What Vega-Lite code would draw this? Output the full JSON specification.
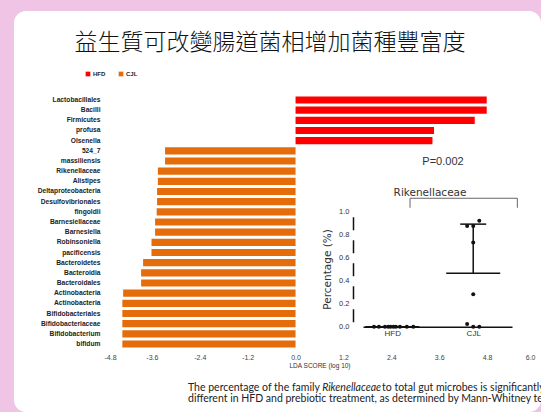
{
  "$schema": "https://vega.github.io/schema/vega-lite/v6.json",
  "width": 527,
  "height": 401,
  "autosize": {"type": "none"},
  "padding": {"left": 14, "top": 11, "right": 0, "bottom": 0},
  "background": "#efc4e4",
  "view": {"fill": "#ffffff", "stroke": null, "cornerRadius": 12},
  "config": {"font": "Liberation Sans"},
  "title": {
    "text": "益生質可改變腸道菌相增加菌種豐富度",
    "font": "Noto Sans CJK TC",
    "fontSize": 23,
    "fontWeight": 300,
    "color": "#111111",
    "anchor": "middle",
    "frame": "group",
    "offset": 0,
    "baseline": "middle",
    "dy": 55,
    "dx": -7.5
  },
  "layer": [
    {
      "data": {
        "values": [
          {"taxon": "Lactobacillales", "group": "HFD", "lda": 4.79},
          {"taxon": "Bacilli", "group": "HFD", "lda": 4.79},
          {"taxon": "Firmicutes", "group": "HFD", "lda": 4.49},
          {"taxon": "profusa", "group": "HFD", "lda": 3.47},
          {"taxon": "Olsenella", "group": "HFD", "lda": 3.43},
          {"taxon": "524_7", "group": "CJL", "lda": -3.27},
          {"taxon": "massiliensis", "group": "CJL", "lda": -3.27},
          {"taxon": "Rikenellaceae", "group": "CJL", "lda": -3.45},
          {"taxon": "Alistipes", "group": "CJL", "lda": -3.45},
          {"taxon": "Deltaproteobacteria", "group": "CJL", "lda": -3.47},
          {"taxon": "Desulfovibrionales", "group": "CJL", "lda": -3.47},
          {"taxon": "fingoldii", "group": "CJL", "lda": -3.48},
          {"taxon": "Barnesiellaceae", "group": "CJL", "lda": -3.52},
          {"taxon": "Barnesiella", "group": "CJL", "lda": -3.52},
          {"taxon": "Robinsoniella", "group": "CJL", "lda": -3.61},
          {"taxon": "pacificensis", "group": "CJL", "lda": -3.61},
          {"taxon": "Bacteroidetes", "group": "CJL", "lda": -3.82},
          {"taxon": "Bacteroidia", "group": "CJL", "lda": -3.87},
          {"taxon": "Bacteroidales", "group": "CJL", "lda": -3.87},
          {"taxon": "Actinobacteria", "group": "CJL", "lda": -4.32},
          {"taxon": "Actinobacteria\u200b", "group": "CJL", "lda": -4.34},
          {"taxon": "Bifidobacteriales", "group": "CJL", "lda": -4.34},
          {"taxon": "Bifidobacteriaceae", "group": "CJL", "lda": -4.34},
          {"taxon": "Bifidobacterium", "group": "CJL", "lda": -4.34},
          {"taxon": "bifidum", "group": "CJL", "lda": -4.34}
        ]
      },
      "mark": {"type": "bar"},
      "encoding": {
        "y": {
          "field": "taxon",
          "type": "nominal",
          "sort": null,
          "scale": {"range": [83.9, 338.1], "paddingInner": 0.3, "paddingOuter": 0.15},
          "axis": {
            "orient": "left",
            "title": null,
            "domain": false,
            "ticks": false,
            "grid": false,
            "labelPadding": 2,
            "offset": -88,
            "labelFontSize": 6.7,
            "labelFontWeight": "bold",
            "labelColor": "#222222",
            "labelLimit": 200
          }
        },
        "x": {
          "field": "lda",
          "type": "quantitative",
          "scale": {"domain": [-4.8, 6.0], "range": [90, 521], "nice": false},
          "axis": {
            "orient": "bottom",
            "offset": -62,
            "values": [-4.8, -3.6, -2.4, -1.2, 0, 1.2, 2.4, 3.6, 4.8, 6.0],
            "labelExpr": "(datum.value < 0 ? '-' : '') + format(abs(datum.value), '.1f')",
            "domain": false,
            "ticks": false,
            "grid": false,
            "labelFontSize": 7,
            "labelColor": "#444444",
            "labelPadding": 3,
            "title": "LDA SCORE (log 10)",
            "titleFontSize": 6.5,
            "titleFontWeight": "normal",
            "titleColor": "#333333",
            "titlePadding": 2
          }
        },
        "color": {
          "field": "group",
          "type": "nominal",
          "scale": {"domain": ["HFD", "CJL"], "range": ["#ff0000", "#e46c0a"]},
          "legend": {
            "orient": "none",
            "legendX": 71,
            "legendY": 60,
            "direction": "horizontal",
            "title": null,
            "symbolType": "square",
            "symbolSize": 22,
            "symbolStrokeWidth": 0,
            "labelFontSize": 6,
            "labelFontWeight": "bold",
            "labelColor": "#222222",
            "columnPadding": 12,
            "labelOffset": 2,
            "padding": 0
          }
        }
      }
    },
    {
      "layer": [
        {
          "data": {
            "values": [
              {"group": "HFD", "pct": 0, "jitter": -4.5},
              {"group": "HFD", "pct": 0, "jitter": -3.3},
              {"group": "HFD", "pct": 0, "jitter": -1.8},
              {"group": "HFD", "pct": 0, "jitter": -1.0},
              {"group": "HFD", "pct": 0, "jitter": -0.4},
              {"group": "HFD", "pct": 0, "jitter": 0.3},
              {"group": "HFD", "pct": 0, "jitter": 0.9},
              {"group": "HFD", "pct": 0, "jitter": 1.9},
              {"group": "HFD", "pct": 0, "jitter": 3.6},
              {"group": "HFD", "pct": 0, "jitter": 5.2},
              {"group": "CJL", "pct": 0.918, "jitter": 1.5},
              {"group": "CJL", "pct": 0.872, "jitter": -1.5},
              {"group": "CJL", "pct": 0.872, "jitter": 0},
              {"group": "CJL", "pct": 0.73, "jitter": 0},
              {"group": "CJL", "pct": 0.28, "jitter": 0},
              {"group": "CJL", "pct": 0.023, "jitter": -1.5},
              {"group": "CJL", "pct": 0, "jitter": 0},
              {"group": "CJL", "pct": 0, "jitter": 1.5}
            ]
          },
          "mark": {"type": "circle", "size": 16, "opacity": 1, "color": "#111111"},
          "encoding": {
            "x": {
              "field": "group",
              "type": "nominal",
              "scale": {"type": "point", "domain": ["HFD", "CJL"], "range": [349, 498], "padding": 0.42, "align": 0.43},
              "axis": {
                "orient": "bottom",
                "offset": -85.3,
                "title": null,
                "domain": true,
                "domainColor": "#111111",
                "domainWidth": 1.5,
                "ticks": false,
                "grid": false,
                "labelAngle": 0,
                "labelFontSize": 8,
                "labelColor": "#333333",
                "labelPadding": 3
              }
            },
            "xOffset": {
              "field": "jitter",
              "type": "quantitative",
              "scale": {"domain": [-10, 10], "range": [-40.5, 40.5], "nice": false, "zero": false}
            },
            "y": {
              "field": "pct",
              "type": "quantitative",
              "scale": {"domain": [0, 1], "range": [315.7, 200.2], "nice": false, "zero": false},
              "axis": {
                "orient": "left",
                "offset": -339,
                "values": [0, 0.2, 0.4, 0.6, 0.8, 1.0],
                "format": ".1f",
                "grid": false,
                "ticks": false,
                "domain": true,
                "domainColor": "#111111",
                "domainWidth": 1.5,
                "domainDash": [13, 10],
                "domainDashOffset": 18,
                "labelPadding": 4,
                "labelFontSize": 7.5,
                "labelColor": "#333333",
                "title": "Percentage (%)",
                "titleFont": "DejaVu Sans",
                "titleFontSize": 10.5,
                "titleFontWeight": "normal",
                "titleColor": "#333333",
                "titlePadding": 6
              }
            }
          }
        },
        {
          "data": {
            "values": [
              {"group": "HFD", "mean": 0, "upper": 0},
              {"group": "CJL", "mean": 0.462, "upper": 0.888}
            ]
          },
          "mark": {"type": "rule", "color": "#111111", "strokeWidth": 1.5},
          "encoding": {
            "x": {"field": "group", "type": "nominal"},
            "y": {"field": "mean", "type": "quantitative", "scale": {"domain": [0, 1], "range": [315.7, 200.2], "nice": false, "zero": false}},
            "y2": {"field": "upper"}
          }
        },
        {
          "data": {
            "values": [
              {"group": "HFD", "mean": 0, "upper": 0},
              {"group": "CJL", "mean": 0.462, "upper": 0.888}
            ]
          },
          "mark": {"type": "tick", "orient": "horizontal", "size": 54, "thickness": 1.5, "color": "#111111", "opacity": 1},
          "encoding": {
            "x": {"field": "group", "type": "nominal"},
            "y": {"field": "mean", "type": "quantitative", "scale": {"domain": [0, 1], "range": [315.7, 200.2], "nice": false, "zero": false}}
          }
        },
        {
          "data": {
            "values": [
              {"group": "CJL", "mean": 0.462, "upper": 0.888}
            ]
          },
          "mark": {"type": "tick", "orient": "horizontal", "size": 26, "thickness": 1.5, "color": "#111111", "opacity": 1},
          "encoding": {
            "x": {"field": "group", "type": "nominal"},
            "y": {"field": "upper", "type": "quantitative", "scale": {"domain": [0, 1], "range": [315.7, 200.2], "nice": false, "zero": false}}
          }
        }
      ]
    },
    {
      "layer": [
        {
          "data": {"values": [{"cx": 1.627, "cy": 1.43, "txt": "P=0.002"}]},
          "mark": {"type": "text", "fontSize": 11, "color": "#333333", "align": "center", "baseline": "middle"},
          "encoding": {
            "x": {"field": "cx", "type": "quantitative", "scale": {"domain": [1, 2], "range": [378.2, 459.2], "nice": false, "zero": false}, "axis": null},
            "y": {"field": "cy", "type": "quantitative", "scale": {"domain": [0, 1], "range": [315.7, 200.2], "nice": false, "zero": false}, "axis": null},
            "text": {"field": "txt"}
          }
        },
        {
          "data": {"values": [{"cx": 1.467, "cy": 1.155, "txt": "Rikenellaceae"}]},
          "mark": {"type": "text", "font": "DejaVu Sans", "fontSize": 10.5, "color": "#333333", "align": "center", "baseline": "middle"},
          "encoding": {
            "x": {"field": "cx", "type": "quantitative"},
            "y": {"field": "cy", "type": "quantitative"},
            "text": {"field": "txt"}
          }
        },
        {
          "data": {
            "values": [
              {"cx": 1.22, "cx2": 2.545, "cy": 1.112, "cy2": 1.112},
              {"cx": 1.22, "cx2": 1.22, "cy": 1.112, "cy2": 1.03},
              {"cx": 2.545, "cx2": 2.545, "cy": 1.112, "cy2": 1.03}
            ]
          },
          "mark": {"type": "rule", "color": "#666666", "strokeWidth": 1},
          "encoding": {
            "x": {"field": "cx", "type": "quantitative"},
            "x2": {"field": "cx2"},
            "y": {"field": "cy", "type": "quantitative"},
            "y2": {"field": "cy2"}
          }
        },
        {
          "data": {
            "values": [
              {"cx": -1.521, "cy": -0.53, "txt": "The percentage of the family"},
              {"cx": 0.875, "cy": -0.53, "txt": "to total gut microbes is significantly"},
              {"cx": -1.521, "cy": -0.625, "txt": "different in HFD and prebiotic treatment, as determined by Mann-Whitney test"}
            ]
          },
          "mark": {"type": "text", "font": "Lato", "fontSize": 10.5, "color": "#222222", "align": "left", "baseline": "middle"},
          "encoding": {
            "x": {"field": "cx", "type": "quantitative"},
            "y": {"field": "cy", "type": "quantitative"},
            "text": {"field": "txt"}
          }
        },
        {
          "data": {"values": [{"cx": 0.135, "cy": -0.53, "txt": "Rikenellaceae"}]},
          "mark": {"type": "text", "font": "Lato", "fontSize": 10.5, "fontStyle": "italic", "color": "#222222", "align": "left", "baseline": "middle"},
          "encoding": {
            "x": {"field": "cx", "type": "quantitative"},
            "y": {"field": "cy", "type": "quantitative"},
            "text": {"field": "txt"}
          }
        }
      ]
    }
  ],
  "resolve": {"scale": {"x": "independent", "y": "independent"}}
}
